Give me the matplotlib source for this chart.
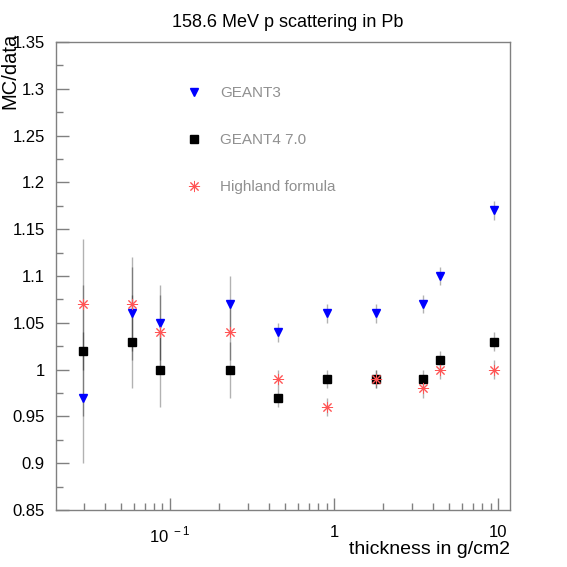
import numpy as np
import matplotlib
matplotlib.use("Agg")
import matplotlib.pyplot as plt
from matplotlib.ticker import MultipleLocator, FuncFormatter, FixedLocator, FixedFormatter

plt.rcParams['font.family'] = ['Liberation Sans', 'DejaVu Sans']
plt.rcParams['mathtext.fontset'] = 'custom'
plt.rcParams['mathtext.rm'] = 'Liberation Sans'

# thickness values (g/cm2)
thickness = [0.0294, 0.059, 0.087, 0.232, 0.455, 0.91, 1.81, 3.47, 4.44, 9.42]
# data error, same for all three series at a given thickness
data_err = [0.07, 0.05, 0.04, 0.03, 0.01, 0.01, 0.01, 0.01, 0.01, 0.01]

geant3 = [0.97, 1.06, 1.05, 1.07, 1.04, 1.06, 1.06, 1.07, 1.10, 1.17]
geant4 = [1.02, 1.03, 1.00, 1.00, 0.97, 0.99, 0.99, 0.99, 1.01, 1.03]
highland = [1.07, 1.07, 1.04, 1.04, 0.99, 0.96, 0.99, 0.98, 1.00, 1.00]

labels = ["GEANT3", "GEANT4 7.0", "Highland formula"]

fig = plt.figure(figsize=(5.67, 5.67), dpi=100)
ax = fig.add_axes([56 / 567, 1 - 510 / 567, 454 / 567, 468 / 567])

ecol = (0, 0, 0, 0.3)
star = (8, 2, 0)

# error bars first so markers sit on top
for vals in (geant3, geant4, highland):
    ax.errorbar(thickness, vals, yerr=data_err, fmt='none', ecolor=ecol,
                elinewidth=1.0, capsize=0, zorder=1)

h1, = ax.plot(thickness, geant3, linestyle='none', marker='v', markersize=6,
              color='#0000ff', zorder=3)
h2, = ax.plot(thickness, geant4, linestyle='none', marker='s', markersize=5.8,
              color='black', zorder=3)
h3, = ax.plot(thickness, highland, linestyle='none', marker=star, markersize=8,
              markeredgewidth=0.7, color='#ff5555', markeredgecolor='#ff5555', zorder=4)

ax.set_xscale('log')
ax.set_xlim(0.0202, 11.8)
ax.set_ylim(0.85, 1.35)

ax.xaxis.set_major_locator(FixedLocator([0.1, 1, 10]))
ax.xaxis.set_major_formatter(FixedFormatter(['10$^{\\ -1}$', '1', '10']))
ax.yaxis.set_major_locator(MultipleLocator(0.05))
ax.yaxis.set_minor_locator(MultipleLocator(0.025))
ax.yaxis.set_major_formatter(FuncFormatter(lambda v, p: '%g' % round(v, 3)))

for s in ax.spines.values():
    s.set_color('#808080')
    s.set_linewidth(1.0)

ax.tick_params(which='both', direction='in', color='#808080', top=False, right=False,
               labelsize=12)
ax.tick_params(which='major', length=9, width=1.0)
ax.tick_params(which='minor', length=5, width=1.0)
ax.tick_params(axis='x', which='major', pad=11)
ax.tick_params(axis='y', which='major', pad=8)

fig.text(0.508, 0.960, "158.6 MeV p scattering in Pb", ha='center', va='center', fontsize=13)
fig.text(510 / 567, 1 - 550 / 567, "thickness in g/cm2", ha='right', va='center', fontsize=14)
fig.text(0.0, 1 - 33 / 567, "MC/data", rotation=90, ha='left', va='top', fontsize=14.5)

leg = ax.legend([h1, h2, h3], labels, loc='upper left', bbox_to_anchor=(0.287, 0.905),
                frameon=False, fontsize=11, labelcolor='#909090', handlelength=1.0,
                handletextpad=1.2, labelspacing=2.15, borderpad=0, borderaxespad=0,
                numpoints=1)

fig.savefig("out.png", dpi=100)
